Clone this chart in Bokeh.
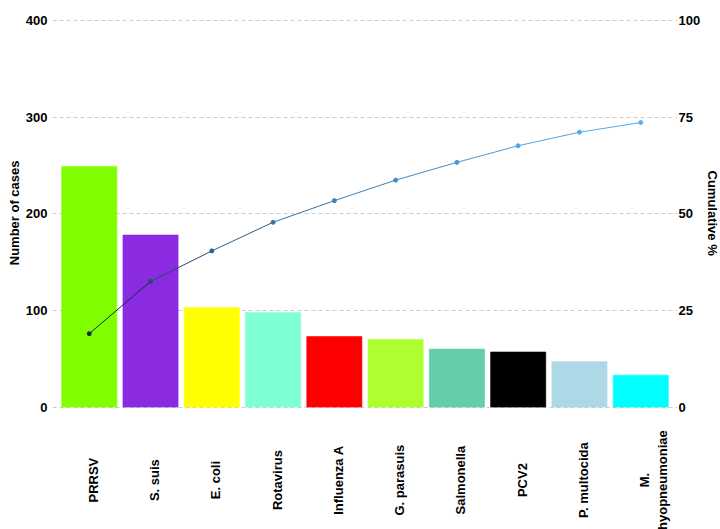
import math
from bokeh.plotting import figure
from bokeh.models import (ColumnDataSource, FactorRange, Range1d, LinearAxis,
                          FixedTicker, Title)
from bokeh.core.properties import value
from bokeh.embed import file_html
from bokeh.resources import INLINE

pathogens = ["PRRSV", "S. suis", "E. coli", "Rotavirus", "Influenza A",
             "G. parasuis", "Salmonella", "PCV2", "P. multocida",
             "M. hyopneumoniae"]
cases = [249, 178, 103, 98, 73, 70, 60, 57, 47, 33]
cumulative_pct = [19.0, 32.5, 40.4, 47.8, 53.4, 58.7, 63.3, 67.6, 71.1, 73.6]
bar_colors = ["#7FFF00", "#8A2BE2", "#FFFF00", "#7FFFD4", "#FF0000",
              "#ADFF2F", "#66CDAA", "#000000", "#ADD8E6", "#00FFFF"]
left_ticks = [0, 100, 200, 300, 400]
right_ticks = [0, 25, 50, 75, 100]

FONT = "Liberation Sans"
FS = "13px"


def grad(v, lo, hi, c0=(0x13, 0x2B, 0x43), c1=(0x56, 0xB1, 0xF7)):
    t = 0 if hi == lo else (v - lo) / (hi - lo)
    r, g, b = (round(a + (bb - a) * t) for a, bb in zip(c0, c1))
    return "#%02x%02x%02x" % (r, g, b)


lo, hi = min(cumulative_pct), max(cumulative_pct)
pt_colors = [grad(v, lo, hi) for v in cumulative_pct]

# the frame reaches down to the canvas bottom so the category labels can be
# drawn as text inside it (below the zero line)
Y_LO, Y_HI = -126.6, 401
p = figure(width=720, height=529, output_backend="svg", toolbar_location=None,
           x_range=FactorRange(factors=pathogens, range_padding=0.1,
                               range_padding_units="absolute"),
           y_range=Range1d(Y_LO, Y_HI),
           min_border_left=52, min_border_right=38, min_border_top=19,
           min_border_bottom=0)
p.extra_y_ranges = {"pct": Range1d(Y_LO / 4, Y_HI / 4)}
p.outline_line_color = None
p.background_fill_color = "white"
p.border_fill_color = "white"

bars = ColumnDataSource(dict(x=pathogens, top=cases, color=bar_colors))
p.vbar(x="x", top="top", bottom=0, width=0.9, source=bars, fill_color="color",
       line_color="color", line_alpha=0.6, line_width=1)

seg = ColumnDataSource(dict(x0=pathogens[:-1], x1=pathogens[1:],
                            y0=cumulative_pct[:-1], y1=cumulative_pct[1:],
                            color=pt_colors[:-1]))
p.segment(x0="x0", y0="y0", x1="x1", y1="y1", source=seg, line_color="color",
          line_width=1, y_range_name="pct")
pts = ColumnDataSource(dict(x=pathogens, y=cumulative_pct, color=pt_colors))
p.scatter(x="x", y="y", source=pts, size=4, color="color", y_range_name="pct")

# axes
p.xaxis.visible = False
p.xgrid.visible = False
yax = p.yaxis[0]
yax.ticker = FixedTicker(ticks=left_ticks)

raxis = LinearAxis(y_range_name="pct", ticker=FixedTicker(ticks=right_ticks))
p.add_layout(raxis, "right")

for ax in [yax, raxis]:
    ax.axis_line_color = None
    ax.major_tick_line_color = None
    ax.minor_tick_line_color = None
    ax.major_tick_out = 0
    ax.major_tick_in = 0
    ax.major_label_text_font = FONT
    ax.major_label_text_font_style = "bold"
    ax.major_label_text_font_size = FS
    ax.major_label_text_color = "black"
yax.major_label_standoff = 5
raxis.major_label_standoff = 1

# axis titles, centred on the 0-400 part of the frame
left_title = Title(text="Number of cases", align="right", vertical_align="middle",
                   offset=141, standoff=0, text_font=FONT, text_font_size=FS,
                   text_font_style="bold", text_color="black")
p.add_layout(left_title, "left")
right_title = Title(text="Cumulative %", align="left", vertical_align="middle",
                    offset=151, standoff=0, text_font=FONT, text_font_size=FS,
                    text_font_style="bold", text_color="black")
p.add_layout(right_title, "right")

p.ygrid.ticker = FixedTicker(ticks=left_ticks)
p.ygrid.grid_line_color = "#CCCCCC"
p.ygrid.grid_line_dash = "4 3"
p.ygrid.grid_line_width = 1

labels_text = [n.replace("M. ", "M.\n") for n in pathogens]
lab_src = ColumnDataSource(dict(
    x=pathogens, y=[-75.5] * len(pathogens), text=labels_text,
    xoff=[4 + 9 * t.count("\n") for t in labels_text]))
p.text(x="x", y="y", text="text", source=lab_src, angle=math.pi / 2,
       x_offset="xoff", text_align="center", text_baseline="middle",
       text_font=value(FONT), text_font_style="bold",
       text_font_size=FS, text_color="black")

open("out.html", "w").write(file_html(p, INLINE))
